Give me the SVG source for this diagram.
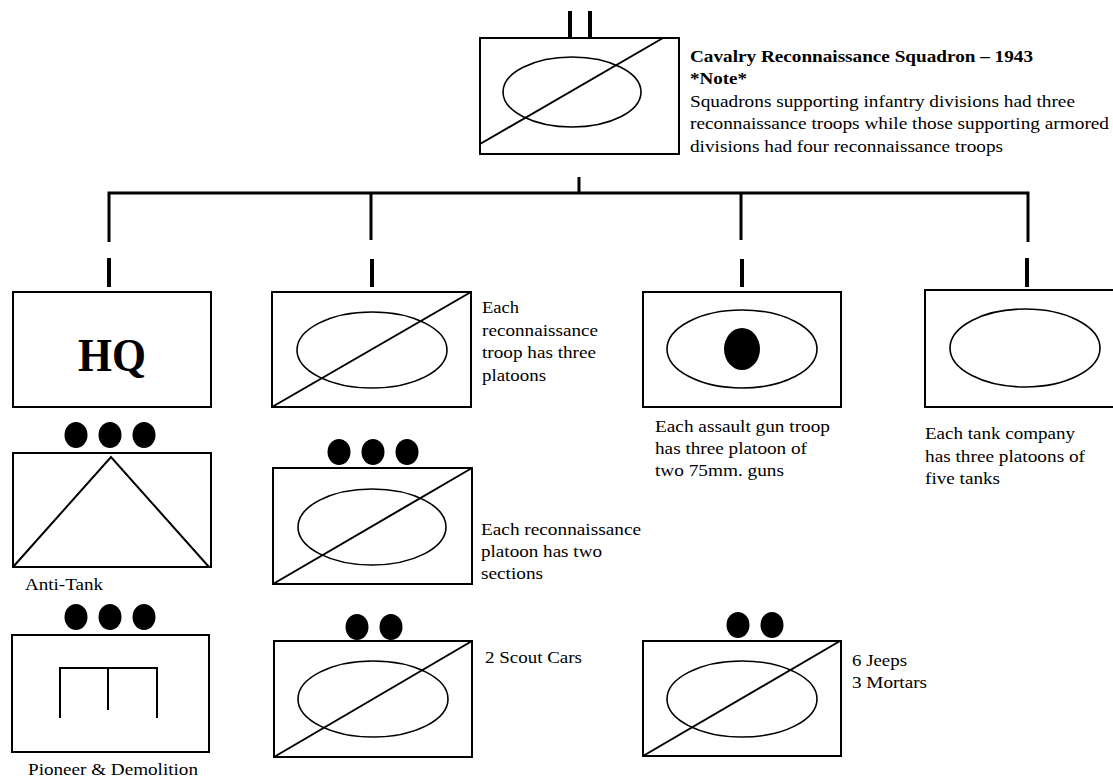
<svg xmlns="http://www.w3.org/2000/svg" width="1113" height="780" viewBox="0 0 1113 780">
<style>
.box{fill:#fff;stroke:#000;stroke-width:2}
.diag{stroke:#000;stroke-width:2;fill:none}
.ell{fill:none;stroke:#000;stroke-width:1.6}
.dot{fill:#000}
.con{stroke:#000;stroke-width:3;fill:none}
.stub{stroke:#000;stroke-width:4;fill:none}
.t{font-family:"Liberation Serif","Times New Roman",serif;font-size:17px;fill:#000}
.b{font-weight:bold}
</style>
<rect width="1113" height="780" fill="#fff"/>
<g id="connectors">
<path class="con" d="M109,242 V193 H1028 V242"/>
<path class="con" d="M371,193 V240 M741,193 V240 M579,177 V193"/>
<path class="stub" d="M570,11 V38 M590,11 V38"/>
<path class="stub" d="M109,258 V287 M372,259 V287 M742,259 V287 M1027,258 V287"/>
</g>
<g id="squadron">
<rect class="box" x="480" y="38" width="199" height="116"/>
<ellipse class="ell" cx="572" cy="92" rx="69" ry="35"/>
<line class="diag" x1="480" y1="144" x2="663" y2="38"/>
<text class="t b" x="690" y="62" textLength="343" lengthAdjust="spacingAndGlyphs">Cavalry Reconnaissance Squadron – 1943</text>
<text class="t b" x="690" y="84" textLength="57" lengthAdjust="spacingAndGlyphs">*Note*</text>
<text class="t" x="690" y="107" textLength="385" lengthAdjust="spacingAndGlyphs">Squadrons supporting infantry divisions had three</text>
<text class="t" x="690" y="129" textLength="419" lengthAdjust="spacingAndGlyphs">reconnaissance troops while those supporting armored</text>
<text class="t" x="690" y="152" textLength="313" lengthAdjust="spacingAndGlyphs">divisions had four reconnaissance troops</text>
</g>
<g id="hq">
<rect class="box" x="13" y="292" width="198" height="115"/>
<text class="t b" x="112" y="371" text-anchor="middle" style="font-size:46px" textLength="68" lengthAdjust="spacingAndGlyphs">HQ</text>
</g>
<g id="antitank">
<ellipse class="dot" cx="76" cy="435" rx="11.5" ry="13"/>
<ellipse class="dot" cx="110" cy="435" rx="11.5" ry="13"/>
<ellipse class="dot" cx="144" cy="435" rx="11.5" ry="13"/>
<rect class="box" x="13" y="453" width="198" height="114"/>
<polyline class="diag" points="13,567 111,457 209,567"/>
<text class="t" x="25" y="590" textLength="78" lengthAdjust="spacingAndGlyphs">Anti-Tank</text>
</g>
<g id="pioneer">
<ellipse class="dot" cx="76" cy="617" rx="11.5" ry="13"/>
<ellipse class="dot" cx="110" cy="617" rx="11.5" ry="13"/>
<ellipse class="dot" cx="144" cy="617" rx="11.5" ry="13"/>
<rect class="box" x="12" y="635" width="197" height="117"/>
<path class="diag" d="M60,718 V668 H158 M108,668 V710 M157,668 V718"/>
<text class="t" x="28" y="775" textLength="170" lengthAdjust="spacingAndGlyphs">Pioneer &amp; Demolition</text>
</g>
<g id="recon-troop">
<rect class="box" x="272" y="292" width="199" height="115"/>
<ellipse class="ell" cx="372" cy="350" rx="75" ry="38"/>
<line class="diag" x1="272" y1="407" x2="471" y2="292"/>
<text class="t" x="482" y="313" textLength="37" lengthAdjust="spacingAndGlyphs">Each</text>
<text class="t" x="482" y="336" textLength="116" lengthAdjust="spacingAndGlyphs">reconnaissance</text>
<text class="t" x="482" y="358" textLength="114" lengthAdjust="spacingAndGlyphs">troop has three</text>
<text class="t" x="482" y="381" textLength="64" lengthAdjust="spacingAndGlyphs">platoons</text>
</g>
<g id="recon-platoon">
<ellipse class="dot" cx="339" cy="452" rx="11.5" ry="13"/>
<ellipse class="dot" cx="373" cy="452" rx="11.5" ry="13"/>
<ellipse class="dot" cx="407" cy="452" rx="11.5" ry="13"/>
<rect class="box" x="273" y="468" width="199" height="116"/>
<ellipse class="ell" cx="372" cy="527" rx="74" ry="38"/>
<line class="diag" x1="273" y1="584" x2="472" y2="468"/>
<text class="t" x="481" y="535" textLength="160" lengthAdjust="spacingAndGlyphs">Each reconnaissance</text>
<text class="t" x="481" y="557" textLength="121" lengthAdjust="spacingAndGlyphs">platoon has two</text>
<text class="t" x="481" y="579" textLength="62" lengthAdjust="spacingAndGlyphs">sections</text>
</g>
<g id="scout-section">
<ellipse class="dot" cx="357" cy="627" rx="11.5" ry="13"/>
<ellipse class="dot" cx="391" cy="627" rx="11.5" ry="13"/>
<rect class="box" x="274" y="641" width="198" height="116"/>
<ellipse class="ell" cx="373" cy="699" rx="75" ry="38"/>
<line class="diag" x1="274" y1="757" x2="472" y2="641"/>
<text class="t" x="485" y="663" textLength="97" lengthAdjust="spacingAndGlyphs">2 Scout Cars</text>
</g>
<g id="assault-gun-troop">
<rect class="box" x="643" y="292" width="198" height="115"/>
<ellipse class="ell" cx="742" cy="349" rx="75" ry="39"/>
<ellipse class="dot" cx="742" cy="349" rx="18" ry="21"/>
<text class="t" x="655" y="432" textLength="175" lengthAdjust="spacingAndGlyphs">Each assault gun troop</text>
<text class="t" x="655" y="454" textLength="152" lengthAdjust="spacingAndGlyphs">has three platoon of</text>
<text class="t" x="655" y="476" textLength="129" lengthAdjust="spacingAndGlyphs">two 75mm. guns</text>
</g>
<g id="mortar-section">
<ellipse class="dot" cx="738" cy="625" rx="11.5" ry="13"/>
<ellipse class="dot" cx="772" cy="625" rx="11.5" ry="13"/>
<rect class="box" x="643" y="641" width="198" height="115"/>
<ellipse class="ell" cx="742" cy="699" rx="75" ry="38"/>
<line class="diag" x1="643" y1="756" x2="840" y2="641"/>
<text class="t" x="852" y="666" textLength="55" lengthAdjust="spacingAndGlyphs">6 Jeeps</text>
<text class="t" x="852" y="688" textLength="75" lengthAdjust="spacingAndGlyphs">3 Mortars</text>
</g>
<g id="tank-company">
<rect class="box" x="925" y="290" width="199" height="117"/>
<ellipse class="ell" cx="1025" cy="348" rx="75" ry="39"/>
<text class="t" x="925" y="439" textLength="150" lengthAdjust="spacingAndGlyphs">Each tank company</text>
<text class="t" x="925" y="462" textLength="160" lengthAdjust="spacingAndGlyphs">has three platoons of</text>
<text class="t" x="925" y="484" textLength="75" lengthAdjust="spacingAndGlyphs">five tanks</text>
</g>
</svg>
